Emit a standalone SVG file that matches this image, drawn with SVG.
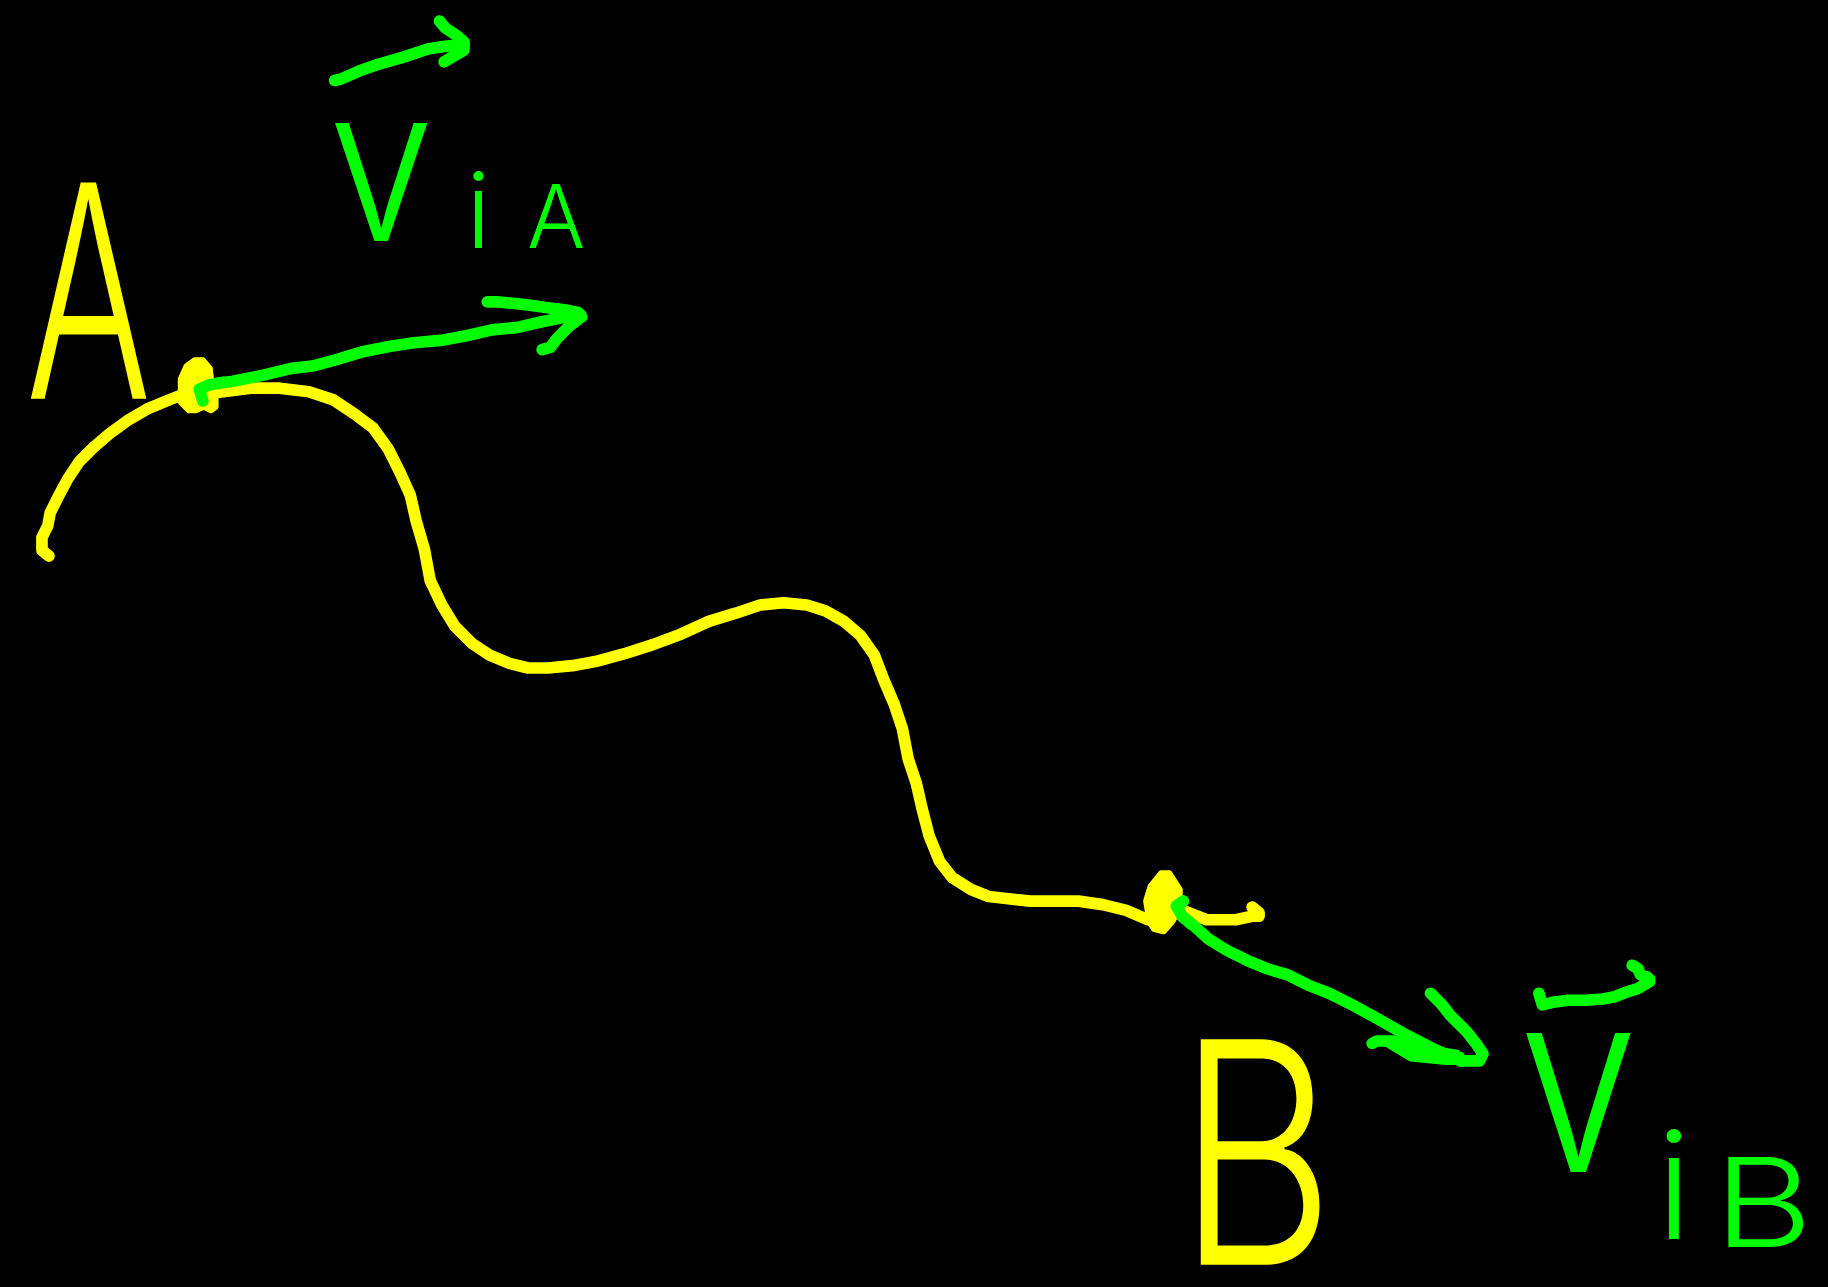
<svg xmlns="http://www.w3.org/2000/svg" width="1828" height="1287" viewBox="0 0 1828 1287">
<style>
.y{fill:none;stroke:#ffff00;stroke-width:10;stroke-linecap:round;stroke-linejoin:round}
.g{fill:none;stroke:#00ff00;stroke-width:10;stroke-linecap:round;stroke-linejoin:round}
.yf{fill:#ffff00;stroke:#ffff00;stroke-width:5;stroke-linejoin:round}
.gf{fill:#00ff00;stroke:#00ff00;stroke-width:5;stroke-linejoin:round}
.ty{fill:#ffff00;font-family:Inter,"DejaVu Sans",sans-serif;font-weight:300}
.tg{fill:#00ff00;font-family:Inter,"DejaVu Sans",sans-serif;font-weight:300}
</style>
<rect width="1828" height="1287" fill="#000"/>
<g transform="scale(1.16582,1.16576)">
<g id="label-A"><text class="ty" x="22" y="342" font-size="255" textLength="108" lengthAdjust="spacingAndGlyphs">A</text></g>
<g id="label-B"><text class="ty" x="1010" y="1085" font-size="266" textLength="135" lengthAdjust="spacingAndGlyphs">B</text></g>
<g id="velocity-A-label">
<text class="tg" x="282" y="207" font-size="185" textLength="90" lengthAdjust="spacingAndGlyphs">v</text>
<text class="tg" x="400" y="213" font-size="90">i</text>
<text class="tg" x="452" y="213" font-size="76" textLength="50" lengthAdjust="spacingAndGlyphs">A</text>
</g>
<g id="velocity-B-label">
<text class="tg" x="1303" y="1005" font-size="218" textLength="102" lengthAdjust="spacingAndGlyphs">v</text>
<text class="tg" x="1421" y="1063" font-size="128">i</text>
<text class="tg" x="1470" y="1070" font-size="106" textLength="85" lengthAdjust="spacingAndGlyphs">B</text>
</g>
<g id="connectors">
<path id="trajectory" class="y" d="M42,477 L36,472 L36,461 L41,451 L43,440 L50,426 L58,411 L68,396 L80,384 L94,372 L109,361 L126,351 L145,343 L158,338"/>
<path class="y" d="M183,337 L215,333 L240,333 L265,336 L286,343 L304,355 L320,367 L333,385 L343,405 L352,425 L357,447 L364,471 L369,498 L379,519 L390,537 L405,552 L420,562 L437,569 L453,573 L470,573 L491,571 L513,567 L535,561 L560,553 L584,544 L608,533 L631,526 L652,519 L672,517 L692,519 L708,524 L724,533 L738,545 L750,562 L758,583 L767,604 L774,625 L779,651 L786,672 L791,694 L797,717 L806,739 L817,753 L833,763 L848,769 L865,771 L884,773 L906,773 L925,773 L946,776 L966,781 L985,789"/>
<path class="y" d="M1012,780 L1035,789 L1060,789 L1074,786 L1080,786 L1080,783 L1074,778"/>
<path class="g" d="M172,342 L170,333 L178,330 L200,327 L225,322 L250,316 L268,314 L290,308 L310,302 L335,297 L355,294 L378,292 L400,288 L422,283 L443,281 L465,276 L485,272 L498,270"/>
<path class="g" d="M418,259 L428,259 L448,261 L470,264 L486,266 L496,268 L499,272"/>
<path class="g" d="M465,300 L472,298 L478,290 L488,280 L496,274"/>
<path class="g" d="M1015,773 L1009,777 L1014,786 L1025,795 L1036,805 L1052,815 L1070,824 L1087,831 L1104,836 L1122,845 L1140,852 L1158,861 L1180,873 L1203,886 L1228,899 L1253,910"/>
<path class="g" d="M1227,852 L1237,862 L1244,871 L1258,885 L1266,895 L1272,904 L1269,910 L1253,910"/>
<path class="g" d="M1177,895 L1181,893 L1195,893 L1212,895 L1225,902 L1240,905 L1252,907"/>
<path class="gf" d="M1185,893 L1250,903 L1256,911 L1240,911 L1210,908 L1195,899 Z"/>
<path class="g" d="M287,69 L292,68 L308,61 L325,55 L346,49 L367,42 L380,40 L398,38"/>
<path class="g" d="M377,18 L382,24 L391,30 L398,36 L398,43 L381,53"/>
<path class="g" d="M1320,852 L1323,862 L1331,860 L1345,858 L1360,858 L1375,857 L1385,855 L1395,851 L1405,848 L1415,842 L1413,838"/>
<path class="g" d="M1400,828 L1405,831 L1407,836 L1415,840"/>
</g>
<g id="point-A"><path class="yf" d="M162,352 L155,345 L155,325 L160,314 L167,309 L174,309 L180,316 L181,325 L185,333 L185,349 L181,352 L175,349 L168,352 Z"/>
<path class="g" d="M174,344 L171,334 L180,330 L192,328"/></g>
<g id="point-B"><path class="yf" d="M985,785 L983,773 L987,760 L996,749 L1003,749 L1012,763 L1012,778 L1006,790 L998,799 L990,797 L986,791 Z"/>
<path class="g" d="M1015,773 L1009,777 L1014,786 L1022,793"/></g>
</g>
</svg>
